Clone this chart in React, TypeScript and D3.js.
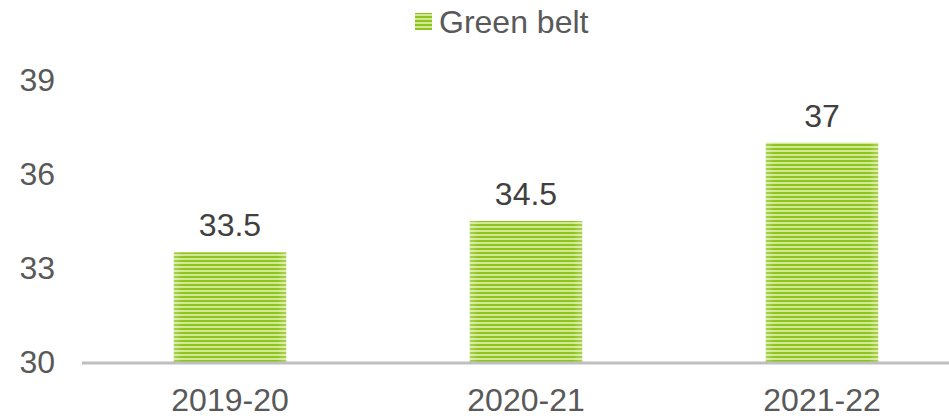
import React from "react";
import * as d3 from "d3";

const categories = ["2019-20", "2020-21", "2021-22"];
const values = [33.5, 34.5, 37];
const yTicks = [30, 33, 36, 39];
const seriesName = "Green belt";

const W = 949;
const H = 418;
const FONT = "Liberation Sans, Arial, sans-serif";

export default function App() {
  const x = d3.scaleBand().domain(categories).range([82, 970]).paddingInner(0.62).paddingOuter(0.31);
  const y = d3.scaleLinear().domain([30, 39]).range([362, 80]);
  return (
    <svg width={W} height={H} style={{ position: "absolute", left: 0, top: 0 }}>
      <defs>
        <pattern id="stripes" width="8" height="4" patternUnits="userSpaceOnUse">
          <rect x="0" y="0" width="8" height="4" fill="#d2e994" />
          <rect x="0" y="0" width="8" height="2" fill="#8fc31f" />
        </pattern>
        <linearGradient id="edge" x1="0" x2="1" y1="0" y2="0">
          <stop offset="0" stopColor="#ffffff" stopOpacity="0.25" />
          <stop offset="0.08" stopColor="#ffffff" stopOpacity="0" />
          <stop offset="0.92" stopColor="#ffffff" stopOpacity="0" />
          <stop offset="1" stopColor="#ffffff" stopOpacity="0.25" />
        </linearGradient>
      </defs>
      {yTicks.map((t) => (
        <text key={t} x={55} y={y(t)} dy="0.35em" textAnchor="end" fontFamily={FONT} fontSize={32} fill="#595959">
          {t}
        </text>
      ))}
      {categories.map((c, i) => (
        <g key={c}>
          <rect x={x(c)} y={y(values[i])} width={x.bandwidth()} height={y(30) - y(values[i])} fill="url(#stripes)" />
          <rect x={x(c)} y={y(values[i])} width={x.bandwidth()} height={y(30) - y(values[i])} fill="url(#edge)" />
          <text x={(x(c) as number) + x.bandwidth() / 2} y={y(values[i]) - 16} textAnchor="middle" fontFamily={FONT} fontSize={32} fill="#404040">
            {values[i]}
          </text>
          <text x={(x(c) as number) + x.bandwidth() / 2} y={411} textAnchor="middle" fontFamily={FONT} fontSize={32} fill="#595959">
            {c}
          </text>
        </g>
      ))}
      <line x1={82} x2={W} y1={363} y2={363} stroke="#bfbfbf" strokeWidth={3} />
      <rect x={415} y={13} width={17} height={17} fill="url(#stripes)" />
      <text x={439} y={33} fontFamily={FONT} fontSize={32} fill="#595959">
        {seriesName}
      </text>
    </svg>
  );
}
